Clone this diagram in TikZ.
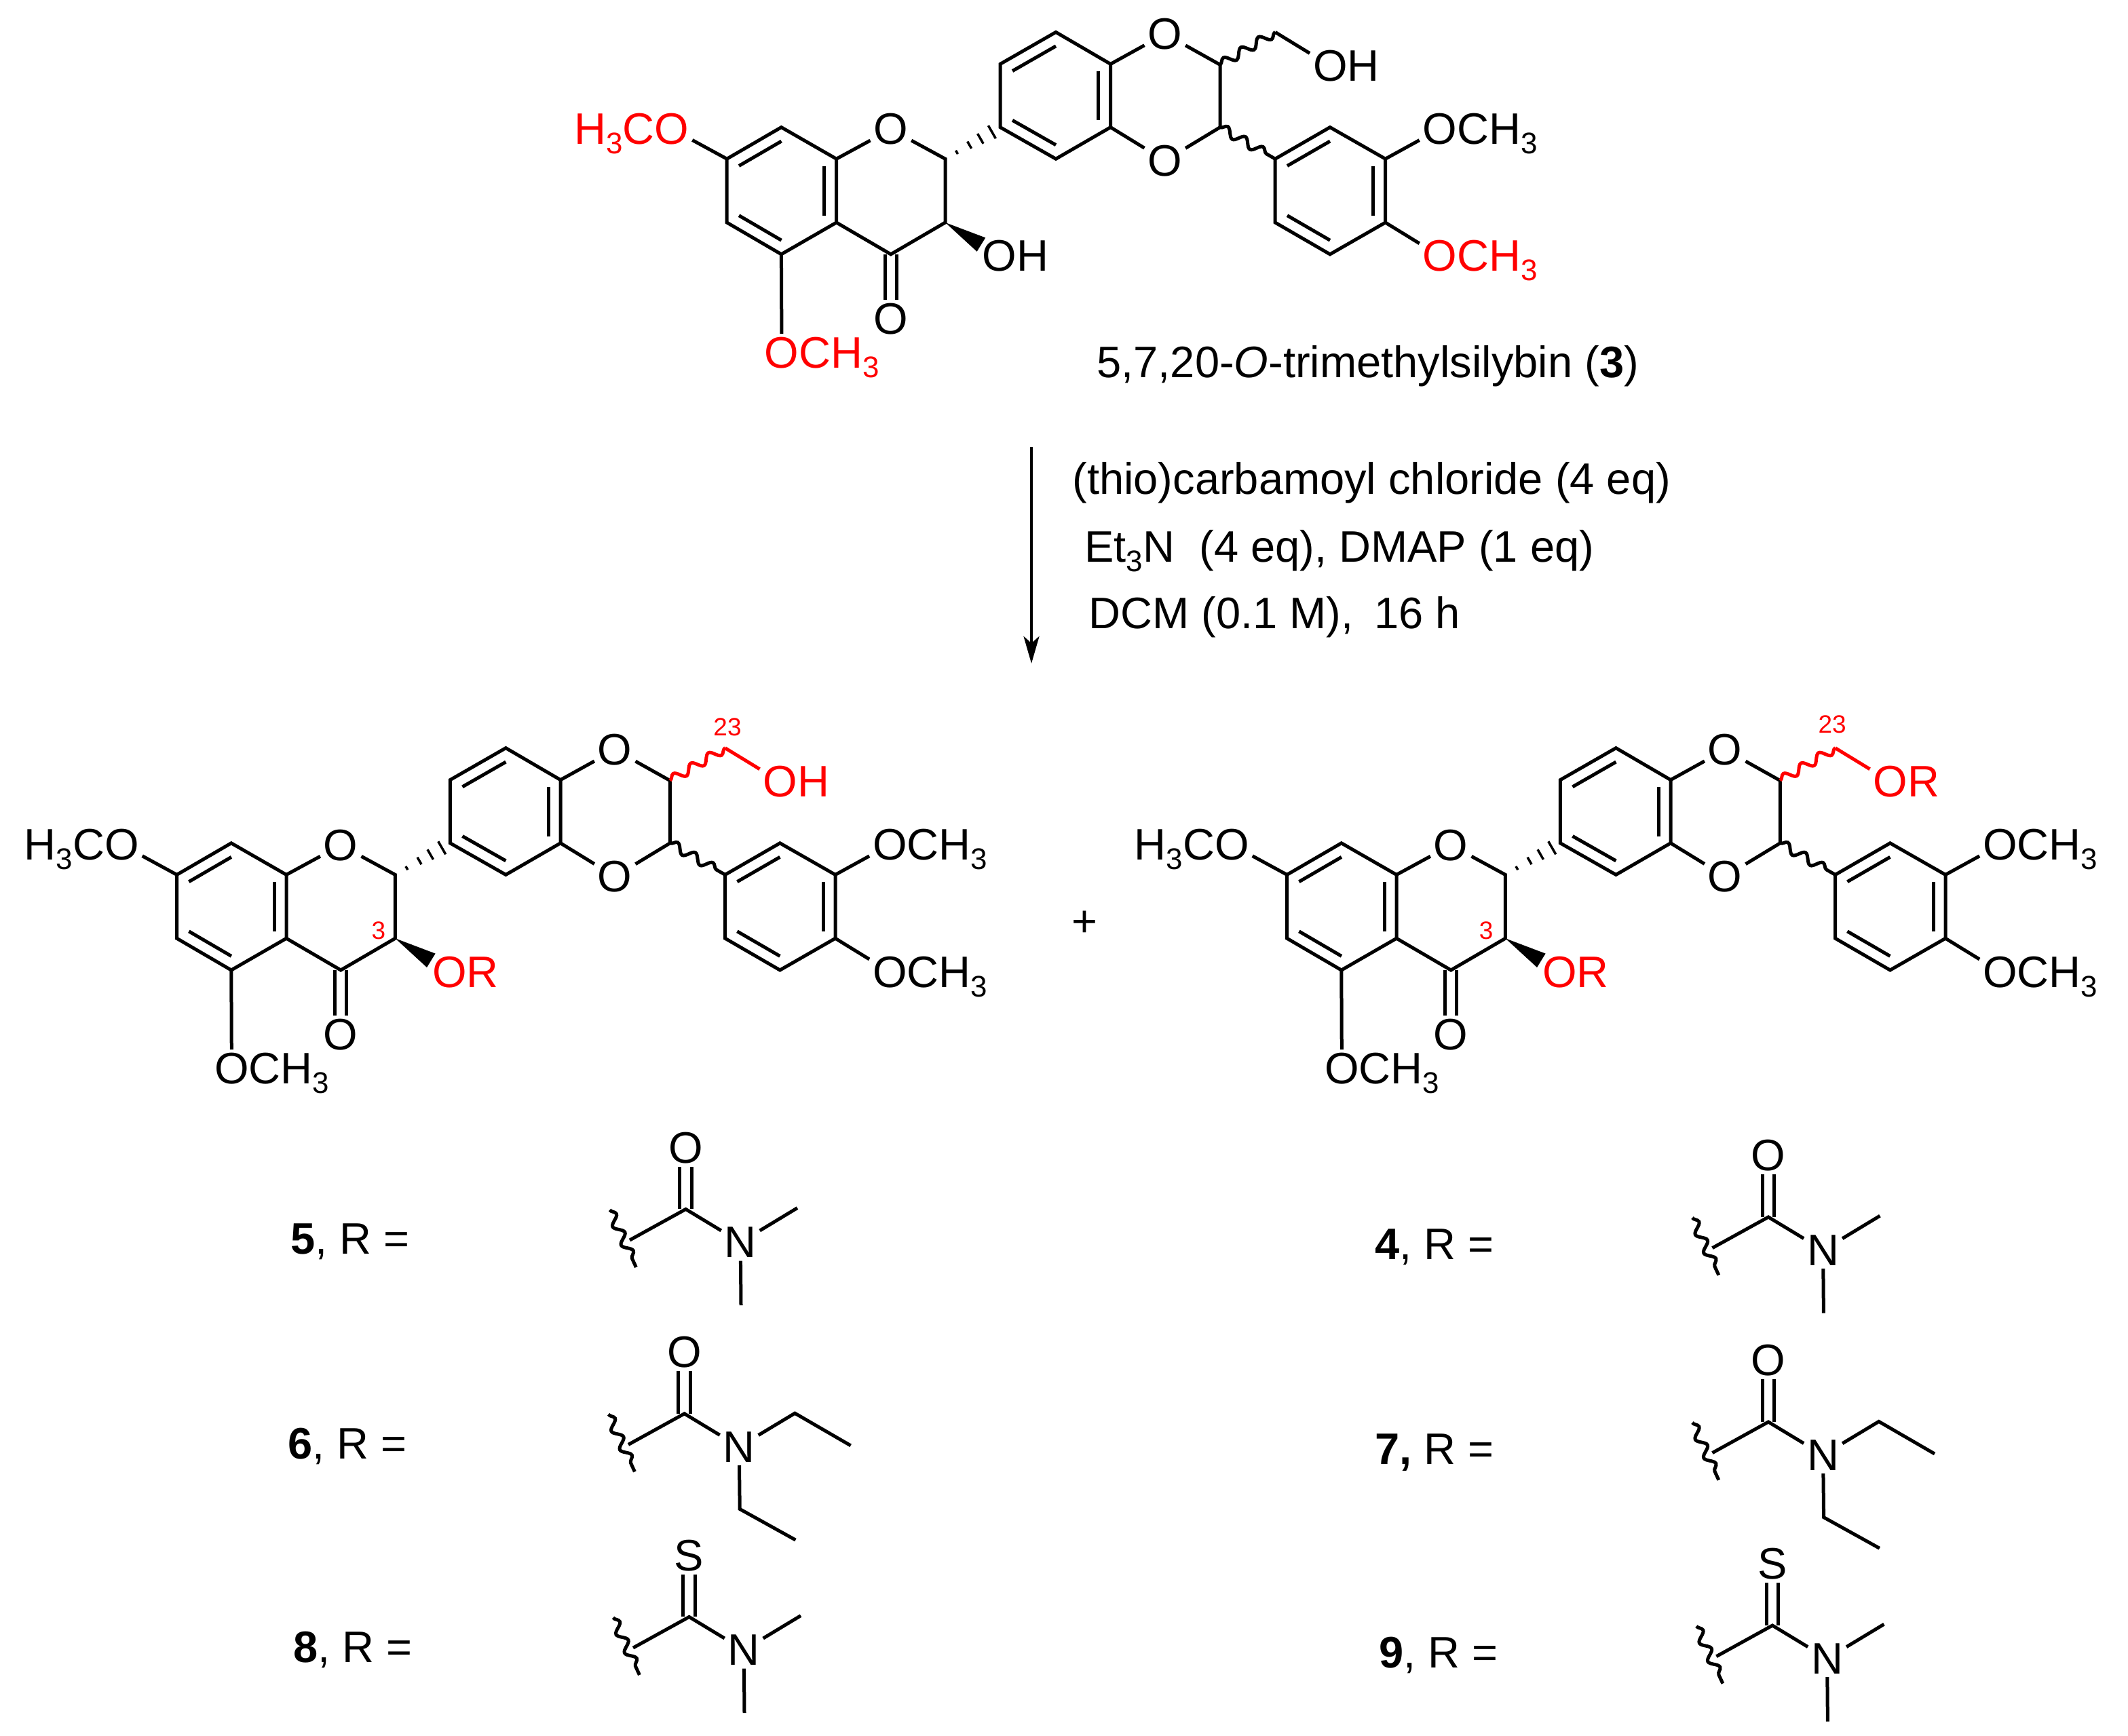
\documentclass[tikz,border=0pt]{standalone}
\usepackage{fontspec}
\setmainfont{Liberation Sans}
\usetikzlibrary{calc,positioning,arrows.meta,decorations.pathmorphing}
\newcommand{\chemsub}[1]{\raisebox{-4pt}{\fontsize{12.5}{12.5}\selectfont #1}}
\newcommand{\innerbond}[3]{\draw ($(#1)!.78!(#2)$) -- ($(#1)!.78!(#3)$);}
\tikzset{
every path/.style={line width=0.05cm},
atom/.style={inner sep=0pt,outer sep=0.05cm,font=\fontsize{18.5}{20}\selectfont},
tail/.style={inner sep=0pt,outer sep=0pt,font=\fontsize{18.5}{20}\selectfont},
txt/.style={inner sep=0pt,anchor=base west,font=\fontsize{18.5}{20}\selectfont},
locant/.style={inner sep=0pt,red,font=\fontsize{10.5}{12}\selectfont},
wavy/.style={decorate,decoration={snake,segment length=0.3cm,amplitude=0.065cm}},
dblbond/.style={double,double distance=0.124cm},
}
% #1 shift, #2 prefix, #3 OMe colour, #4/#5 colour and tail on C3, #6/#7 colour and tail on C23
\newcommand{\silybin}[7]{
\begin{scope}[shift={#1},name prefix=#2]
\coordinate (ca) at (576,140.5);
\coordinate (cb) at (778,70.4);
\coordinate (cc) at (980,140.5);
\coordinate (c8) at (575.7,93.8);
\coordinate (c7) at (535.6,117.1);
\coordinate (c6) at (535.6,164);
\coordinate (c5) at (575.7,187.4);
\coordinate (c4a) at (616.3,164);
\coordinate (c8a) at (616.3,117.1);
\coordinate (c2) at (696.5,117.1);
\coordinate (c3) at (696.5,164);
\coordinate (c4) at (656.4,187.4);
\coordinate (b1) at (737,93.8);
\coordinate (b2) at (737,47.2);
\coordinate (b3) at (778,23.7);
\coordinate (b4) at (818.3,47.2);
\coordinate (b5) at (818.3,93.8);
\coordinate (b6) at (778,117.1);
\coordinate (d1) at (899,47.7);
\coordinate (d2) at (899,93.8);
\coordinate (ch2) at (939.6,23.7);
\coordinate (r1) at (939.6,117.1);
\coordinate (r2) at (980,93.8);
\coordinate (r3) at (1020.8,117.1);
\coordinate (r4) at (1020.8,164);
\coordinate (r5) at (980,187.4);
\coordinate (r6) at (939.6,164);
\node[atom] (o1) at (656.4,95.3) {O};
\node[atom] (o4) at (656.4,235) {O};
\node[atom,#4] (o3) at (736.6,188.7) {O};
\node[tail,#4,base right=-0.05cm of o3] (t3) {#5};
\node[atom] (od1) at (858.4,25) {O};
\node[atom] (od2) at (858.4,118.4) {O};
\node[atom,#6] (o23) at (980.2,48.5) {O};
\node[tail,#6,base right=-0.05cm of o23] (t23) {#7};
\node[atom,#3] (o7) at (495,95) {O};
\node[tail,#3,base left=-0.05cm of o7] (t7) {H\chemsub{3}C};
\node[atom,#3] (o5) at (576,260) {O};
\node[tail,#3,base right=-0.05cm of o5] (t5) {CH\chemsub{3}};
\node[atom] (om) at (1061,95) {O};
\node[tail,base right=-0.05cm of om] (tm) {CH\chemsub{3}};
\node[atom,#3] (op) at (1061,188.7) {O};
\node[tail,#3,base right=-0.05cm of op] (tp) {CH\chemsub{3}};
\draw[dblbond] (c4) -- (o4);
\draw (c8) -- (c7) -- (c6) -- (c5) -- (c4a) -- (c8a) -- cycle;
\draw (c8a) -- (o1) -- (c2) -- (c3) -- (c4) -- (c4a);
\draw (b1) -- (b2) -- (b3) -- (b4) -- (b5) -- (b6) -- cycle;
\draw (b4) -- (od1) -- (d1) -- (d2) -- (od2) -- (b5);
\draw (r1) -- (r2) -- (r3) -- (r4) -- (r5) -- (r6) -- cycle;
\innerbond{ca}{c7}{c8}
\innerbond{ca}{c5}{c6}
\innerbond{ca}{c4a}{c8a}
\innerbond{cb}{b2}{b3}
\innerbond{cb}{b1}{b6}
\innerbond{cb}{b4}{b5}
\innerbond{cc}{r1}{r2}
\innerbond{cc}{r3}{r4}
\innerbond{cc}{r5}{r6}
\draw (c7) -- (o7);
\draw (c5) -- (o5);
\draw (r3) -- (om);
\draw (r4) -- (op);
\draw[wavy] (d2) -- (r1);
\draw[wavy,#6] (d1) -- (ch2);
\draw[#6] (ch2) -- (o23);
\foreach \t/\w in {.21/.03cm,.44/.06cm,.64/.085cm,.85/.11cm}
  \draw[line width=0.035cm] ($(c2)!\t!(b1)!\w!90:(b1)$) -- ($(c2)!\t!(b1)!\w!-90:(b1)$);
\fill (c3) -- ($(c3)!.66!(o3)!.12cm!90:(o3)$) -- ($(c3)!.66!(o3)!.12cm!-90:(o3)$) -- cycle;
\end{scope}
}
% common head of the R groups
\newcommand{\carbamoyl}[4]{
\begin{scope}[shift={#1},name prefix=#2]
\coordinate (c) at (0,0);
\coordinate (w1) at (-56,0.5);
\coordinate (w2) at (-36.6,42.8);
\coordinate (wm) at (-41.3,22.8);
\node[atom] (x) at (0,-45.4) {#3};
\node[atom] (n) at (40.3,24.4) {N};
\draw[wavy] (w1) -- (w2);
\draw[dblbond] (c) -- (x);
\draw (wm) -- (c) -- (n);
#4
\end{scope}
}
\newcommand{\dimethyl}[3]{\carbamoyl{#1}{#2}{#3}{
\coordinate (m1) at (82.2,-0.9);
\coordinate (m2) at (40.7,70.8);
\draw (n) -- (m1);
\draw (n) -- (m2);
}}
\newcommand{\diethyl}[3]{\carbamoyl{#1}{#2}{#3}{
\coordinate (e1) at (81.4,-0.3);
\coordinate (e2) at (122.5,23.5);
\coordinate (e3) at (40.8,70.3);
\coordinate (e4) at (81.9,93.1);
\draw (n) -- (e1) -- (e2);
\draw (n) -- (e3) -- (e4);
}}

\begin{document}
\begin{tikzpicture}[x=0.02cm,y=-0.02cm]
\useasboundingbox (0,0) rectangle (1568,1279);
\silybin{(0,0)}{top-}{red}{black}{H}{black}{H}
\silybin{(-405.3,527.6)}{left-}{black}{red}{R}{red}{H}
\silybin{(412.7,527.6)}{right-}{black}{red}{R}{red}{R}
% labels
\node[txt] (caption) at (807,278) {5,7,20-\textit{O}-trimethylsilybin (\textbf{3})};
\node[txt] (cond1) at (789,364) {(thio)carbamoyl chloride (4 eq)};
\node[txt] (cond2) at (798,414) {Et\chemsub{3}N\ \ (4 eq), DMAP (1 eq)};
\node[txt] (cond3) at (801,463) {DCM (0.1 M),\ \hspace{.2em}16 h};
\node[txt] (plus) at (788.5,690) {+};
\node[locant] (ln3l) at (279,686) {3};
\node[locant] (ln23l) at (536,536) {23};
\node[locant] (ln3r) at (1095,686) {3};
\node[locant] (ln23r) at (1350,534) {23};
% arrow
\coordinate (arrowtop) at (760,329.5);
\coordinate (arrowbot) at (760,489);
\draw[line width=0.04cm,-{Stealth[length=0.4cm,width=0.23cm,inset=0.1cm]}] (arrowtop) -- (arrowbot);
% R groups
\node[txt] (lab5) at (213,924) {\textbf{5}, R =};
\node[txt] (lab6) at (211,1075) {\textbf{6}, R =};
\node[txt] (lab8) at (215,1225) {\textbf{8}, R =};
\node[txt] (lab4) at (1012,928) {\textbf{4}, R =};
\node[txt] (lab7) at (1012,1079) {\textbf{7,} R =};
\node[txt] (lab9) at (1015,1229) {\textbf{9}, R =};
\dimethyl{(505.3,891.2)}{g5-}{O}
\diethyl{(504.3,1041.9)}{g6-}{O}
\dimethyl{(507.8,1191.7)}{g8-}{S}
\dimethyl{(1303,897)}{g4-}{O}
\diethyl{(1303,1048)}{g7-}{O}
\dimethyl{(1306,1198)}{g9-}{S}
\end{tikzpicture}
\end{document}
